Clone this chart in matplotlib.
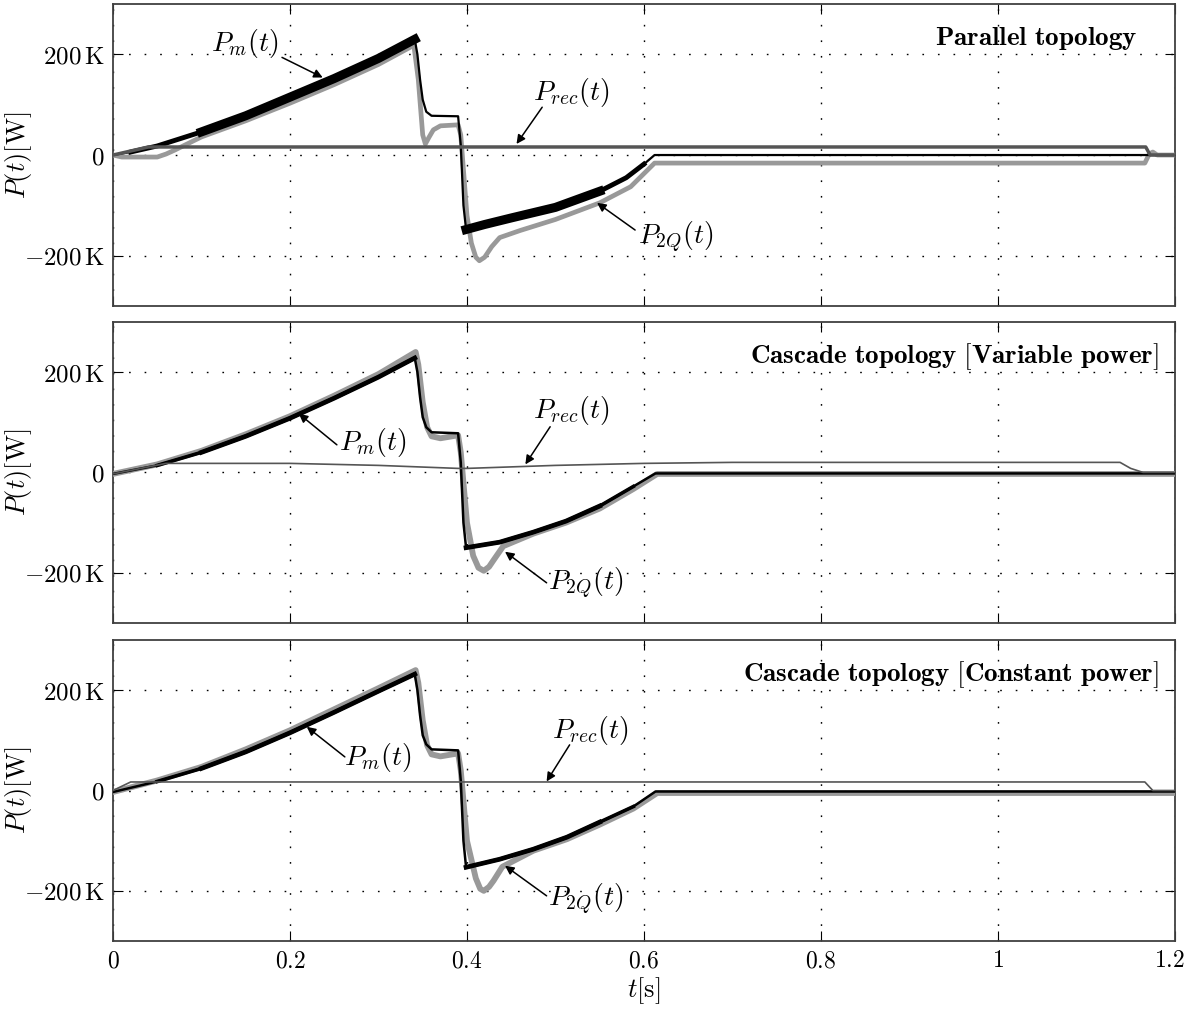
import numpy as np
import matplotlib
matplotlib.use('Agg')
import matplotlib.pyplot as plt
from matplotlib.transforms import ScaledTranslation

plt.rcParams['mathtext.fontset'] = 'cm'
plt.rcParams['font.family'] = 'serif'
plt.rcParams['font.serif'] = ['DejaVu Serif']

# values, power in kW ("K")
# --- Parallel topology
t_m1 = [0, 0.02, 0.05, 0.1, 0.15, 0.2, 0.25, 0.3, 0.341, 0.344, 0.347, 0.35, 0.354, 0.36, 0.39,
        0.393, 0.396, 0.399, 0.42, 0.45, 0.5, 0.55, 0.58, 0.60, 0.612, 1.2]
p_m1 = [0, 6, 18, 46, 78, 115, 152, 192, 230, 200, 150, 110, 86, 78, 77,
        20, -100, -148, -138, -125, -104, -72, -45, -18, 0, 0]
t_q1 = [0, 0.01, 0.05, 0.06, 0.07, 0.1, 0.15, 0.2, 0.25, 0.3, 0.34, 0.345, 0.35, 0.353, 0.357,
        0.362, 0.37, 0.39, 0.393, 0.40, 0.405, 0.41, 0.414, 0.42, 0.428, 0.437, 0.46, 0.5, 0.55,
        0.585, 0.612, 1.166, 1.171, 1.175, 1.18, 1.2]
p_q1 = [0, -4, -4, 2, 10, 36, 68, 103, 140, 180, 218, 150, 40, 22, 35,
        50, 58, 60, 40, -120, -175, -203, -210, -203, -182, -164, -150, -128, -95,
        -63, -16, -16, 2, 6, 0, 0]
t_r1 = [0, 0.04, 1.167, 1.172, 1.2]
p_r1 = [0, 16, 16, 0, 0]

# --- Cascade topology, variable power
t_m2 = [0, 0.05, 0.1, 0.15, 0.2, 0.25, 0.3, 0.341, 0.344, 0.347, 0.35, 0.354, 0.36, 0.39,
        0.393, 0.396, 0.399, 0.437, 0.475, 0.512, 0.55, 0.588, 0.613, 1.2]
p_m2 = [-3, 14, 40, 72, 108, 148, 190, 228, 200, 150, 110, 90, 80, 78,
        20, -100, -150, -139, -119, -97, -67, -28, -2, -2]
t_q2 = [0, 0.05, 0.1, 0.15, 0.2, 0.25, 0.3, 0.342, 0.345, 0.35, 0.355, 0.36, 0.37, 0.39,
        0.393, 0.40, 0.407, 0.413, 0.419, 0.425, 0.43, 0.441, 0.475, 0.512, 0.55, 0.588,
        0.615, 1.2]
p_q2 = [-3, 16, 43, 76, 112, 153, 196, 240, 215, 140, 90, 72, 68, 74,
        40, -100, -166, -190, -196, -188, -175, -147, -122, -100, -72, -33,
        -3, -3]
t_r2 = [0, 0.06, 0.2, 0.3, 0.39, 0.4, 0.5, 0.6, 0.7, 1.0, 1.138, 1.15, 1.164, 1.2]
p_r2 = [-3, 18, 18, 14, 8, 8, 14, 18, 20, 20, 20, 8, 0, 0]

# --- Cascade topology, constant power
t_m3 = [0, 0.05, 0.1, 0.15, 0.2, 0.25, 0.3, 0.341, 0.344, 0.347, 0.35, 0.354, 0.36, 0.39,
        0.393, 0.396, 0.399, 0.437, 0.475, 0.513, 0.55, 0.588, 0.613, 1.2]
p_m3 = [-3, 18, 44, 77, 115, 156, 198, 232, 200, 150, 110, 92, 82, 80,
        20, -100, -153, -137, -117, -93, -63, -32, -2, -2]
t_q3 = [0, 0.05, 0.1, 0.15, 0.2, 0.25, 0.3, 0.342, 0.345, 0.35, 0.355, 0.36, 0.37, 0.39,
        0.393, 0.40, 0.41, 0.415, 0.419, 0.425, 0.43, 0.44, 0.475, 0.513, 0.55, 0.588,
        0.615, 1.2]
p_q3 = [-3, 20, 47, 82, 120, 162, 204, 240, 215, 140, 90, 72, 68, 74,
        40, -100, -175, -196, -200, -192, -180, -152, -120, -97, -68, -36,
        -5, -5]
t_r3 = [0, 0.02, 1.166, 1.175, 1.2]
p_r3 = [0, 17, 17, 0, 0]

titles = [r'$\mathbf{Parallel\ topology}$',
          r'$\mathbf{Cascade\ topology\ [Variable\ power]}$',
          r'$\mathbf{Cascade\ topology\ [Constant\ power]}$']
x_ticks = [0, 0.2, 0.4, 0.6, 0.8, 1.0, 1.2]
x_labels = ['$0$', '$0.2$', '$0.4$', '$0.6$', '$0.8$', '$1$', '$1.2$']
y_ticks = [-200, 0, 200]
y_labels = [r'$-200\,\mathrm{K}$', '$0$', r'$200\,\mathrm{K}$']

# label text position, arrow tail, arrow tip  (t, P)
notes = [
    [(r'$P_m(t)$', (0.149, 222), (0.191, 194), (0.237, 154)),
     (r'$P_{rec}(t)$', (0.518, 125), (0.485, 95), (0.456, 22)),
     (r'$P_{2Q}(t)$', (0.636, -164), (0.590, -149), (0.547, -95))],
    [(r'$P_m(t)$', (0.294, 59), (0.253, 55), (0.210, 117)),
     (r'$P_{rec}(t)$', (0.518, 123), (0.494, 91), (0.466, 16)),
     (r'$P_{2Q}(t)$', (0.534, -222), (0.490, -220), (0.443, -158))],
    [(r'$P_m(t)$', (0.299, 65), (0.262, 67), (0.219, 127)),
     (r'$P_{rec}(t)$', (0.539, 119), (0.516, 91), (0.490, 18)),
     (r'$P_{2Q}(t)$', (0.534, -218), (0.490, -210), (0.443, -150))],
]

panels = [(t_m1, p_m1, t_q1, p_q1, t_r1, p_r1),
          (t_m2, p_m2, t_q2, p_q2, t_r2, p_r2),
          (t_m3, p_m3, t_q3, p_q3, t_r3, p_r3)]

fig = plt.figure(figsize=(11.88, 10.09), dpi=100)
boxes = [[0.0951, 0.6967, 0.8939, 0.2993],
         [0.0951, 0.3826, 0.8939, 0.2984],
         [0.0951, 0.0674, 0.8939, 0.2983]]


def part(t, p, ranges):
    # keep only the samples inside the given time windows (ripple band)
    t = np.asarray(t, float)
    p = np.asarray(p, float)
    keep = np.zeros(len(t), bool)
    for a, b in ranges:
        keep |= (t >= a) & (t <= b)
    return t, np.where(keep, p, np.nan)


for i, (tm, pm, tq, pq, tr, pr) in enumerate(panels):
    ax = fig.add_axes(boxes[i])
    t_mid, p_mid = part(tm, pm, [(0.02, 0.341), (0.399, 0.60)])
    t_big, p_big = part(tm, pm, [(0.1, 0.341), (0.399, 0.55)])
    if i == 0:
        ax.plot(tq, pq, color='#999999', lw=3.4, zorder=3)
        ax.plot(tm, pm, color='black', lw=1.6, zorder=4)
        ax.plot(t_mid, p_mid, color='black', lw=3.5, zorder=4)
        ax.plot(t_big, p_big, color='black', lw=6.5, zorder=4)
        ax.plot(tq, pq, color='#999999', lw=1.2, zorder=3.5)
        ax.plot(tr, pr, color='#555555', lw=2.5, zorder=5)
    else:
        ax.plot(tq, pq, color='#999999', lw=4.2, zorder=3)
        ax.plot(tm, pm, color='black', lw=1.8, zorder=4)
        ax.plot(t_mid, p_mid, color='black', lw=2.6, zorder=4)
        ax.plot(t_big, p_big, color='black', lw=3.4, zorder=4)
        ax.plot(tr, pr, color='#555555', lw=1.2, zorder=5)

    ax.set_xlim(0, 1.2)
    ax.set_ylim(-300, 300)
    ax.set_xticks(x_ticks)
    ax.set_yticks(y_ticks)
    ax.set_yticklabels(y_labels, fontsize=18)
    ax.tick_params(direction='in', length=7, width=0.8, top=True, right=True, pad=6)
    if i == 2:
        ax.set_xticklabels(x_labels, fontsize=17)
        ax.set_xlabel(r'$t[\mathrm{s}]$', fontsize=19, labelpad=2)
        last = ax.get_xticklabels()[-1]
        last.set_transform(last.get_transform() +
                           ScaledTranslation(-4 / 72, 0, fig.dpi_scale_trans))
    else:
        ax.set_xticklabels([])
    ax.set_ylabel(r'$P(t)[\mathrm{W}]$', fontsize=19)
    ax.yaxis.set_label_coords(-0.074, 0.5)
    ax.grid(True, color='black', linestyle=(0, (1.2, 10)), lw=1.0)
    for sp in ax.spines.values():
        sp.set_color('#404040')
        sp.set_linewidth(1.3)

    ax.text(0.965 if i == 0 else 0.985, 0.885, titles[i], transform=ax.transAxes,
            ha='right', va='center', fontsize=19.5)

    for label, txt, tail, tip in notes[i]:
        ax.annotate('', xy=tip, xytext=tail,
                    arrowprops=dict(arrowstyle='-|>', color='black', lw=1.1,
                                    mutation_scale=13, shrinkA=0, shrinkB=0),
                    zorder=6)
        ax.text(txt[0], txt[1], label, ha='center', va='center', fontsize=20, zorder=6)

fig.savefig('out.png', dpi=100)
